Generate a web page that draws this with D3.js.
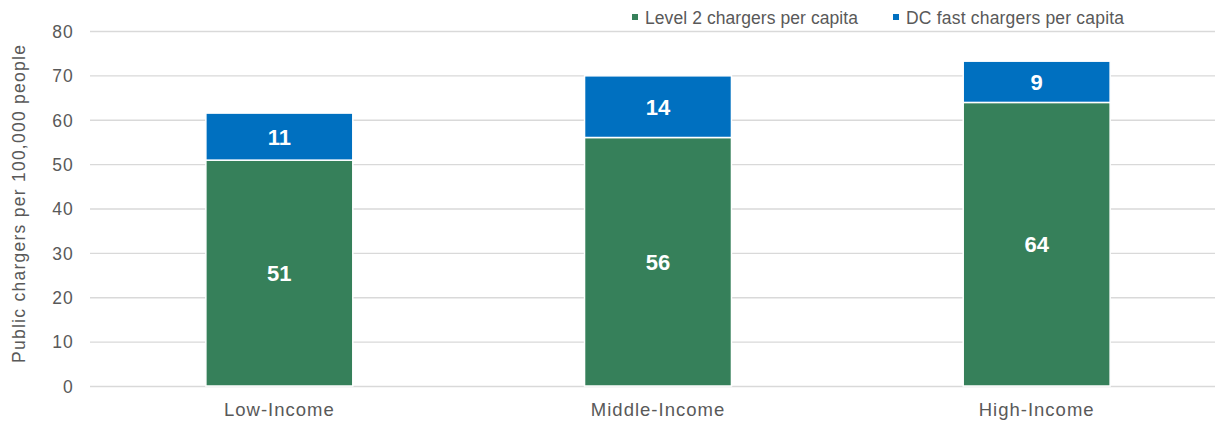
<!DOCTYPE html>
<html><head><meta charset="utf-8">
<script src="https://cdn.jsdelivr.net/npm/d3@7"></script>
<style>body{margin:0;background:#fff}svg{display:block}text{font-family:"Liberation Sans",Arial,sans-serif}</style>
</head><body>
<svg id="c" width="1215" height="424"></svg>
<script>
const categories = ["Low-Income", "Middle-Income", "High-Income"];
const level2 = [50.9, 56.0, 63.9];
const dcFast = [10.6, 13.9, 9.3];
const level2Labels = ["51", "56", "64"];
const dcLabels = ["11", "14", "9"];
const yTicks = [0, 10, 20, 30, 40, 50, 60, 70, 80];
const seriesNames = ["Level 2 chargers per capita", "DC fast chargers per capita"];
const colors = ["#36805A", "#0070C0"];

const FONT = '"Liberation Sans",Arial,sans-serif';
const svg = d3.select("#c");
const x = d3.scaleBand().domain(categories).range([90, 1226]).paddingInner(0.612).paddingOuter(0.306);
const y = d3.scaleLinear().domain([0, 80]).range([386, 31]);

// gridlines
svg.append("g").selectAll("line").data(yTicks).join("line")
  .attr("x1", 90).attr("x2", 1215)
  .attr("y1", d => y(d) + 0.5).attr("y2", d => y(d) + 0.5)
  .attr("stroke", "#D9D9D9").attr("stroke-width", 1.3);

// y axis labels
const yAxis = d3.axisLeft(y).tickValues(yTicks).tickSize(0).tickPadding(0);
const gy = svg.append("g").attr("transform", "translate(74,0)").call(yAxis);
gy.select(".domain").remove();
gy.selectAll("text").attr("font-size", 17.5).attr("fill", "#595959")
  .attr("letter-spacing", 1.2).attr("dy", "0.36em")
  .style("font-family", FONT);

// x axis labels
const xAxis = d3.axisBottom(x).tickSize(0).tickPadding(0);
const gx = svg.append("g").attr("transform", "translate(0,403)").call(xAxis);
gx.select(".domain").remove();
gx.selectAll("text").attr("font-size", 18.5).attr("fill", "#595959")
  .attr("letter-spacing", 1).attr("dy", "0.72em")
  .style("font-family", FONT);

// y title
svg.append("text").attr("transform", "translate(25,204) rotate(-90)")
  .attr("text-anchor", "middle").attr("font-size", 17.5).attr("fill", "#595959")
  .attr("textLength", 318).attr("lengthAdjust", "spacing")
  .text("Public chargers per 100,000 people");

// bars
const data = categories.map((c, i) => ({c, a: level2[i], b: dcFast[i], la: level2Labels[i], lb: dcLabels[i]}));
const g = svg.append("g");
g.selectAll("rect.l2").data(data).join("rect")
  .attr("x", d => x(d.c)).attr("width", x.bandwidth())
  .attr("y", d => y(d.a)).attr("height", d => y(0) - y(d.a))
  .attr("fill", colors[0]).attr("stroke", "#fff").attr("stroke-width", 1.5);
g.selectAll("rect.dc").data(data).join("rect")
  .attr("x", d => x(d.c)).attr("width", x.bandwidth())
  .attr("y", d => y(d.a + d.b)).attr("height", d => y(d.a) - y(d.a + d.b))
  .attr("fill", colors[1]).attr("stroke", "#fff").attr("stroke-width", 1.5);

// labels
g.selectAll("text.la").data(data).join("text")
  .attr("x", d => x(d.c) + x.bandwidth() / 2).attr("y", d => y(d.a / 2))
  .attr("dy", "0.36em").attr("text-anchor", "middle")
  .attr("font-size", 22).attr("font-weight", "bold").attr("fill", "#fff").text(d => d.la);
g.selectAll("text.lb").data(data).join("text")
  .attr("x", d => x(d.c) + x.bandwidth() / 2).attr("y", d => y(d.a + d.b / 2))
  .attr("dy", "0.36em").attr("text-anchor", "middle")
  .attr("font-size", 22).attr("font-weight", "bold").attr("fill", "#fff").text(d => d.lb);

// legend
const legX = [632, 893];
const legW = [213, 218];
const lg = svg.append("g");
seriesNames.forEach((n, i) => {
  lg.append("rect").attr("x", legX[i]).attr("y", 14).attr("width", 6).attr("height", 6).attr("fill", colors[i]);
  lg.append("text").attr("x", legX[i] + 13).attr("y", 23.5).attr("font-size", 17.5).attr("fill", "#595959")
    .attr("textLength", legW[i]).attr("lengthAdjust", "spacing").text(n);
});
</script>
</body></html>
